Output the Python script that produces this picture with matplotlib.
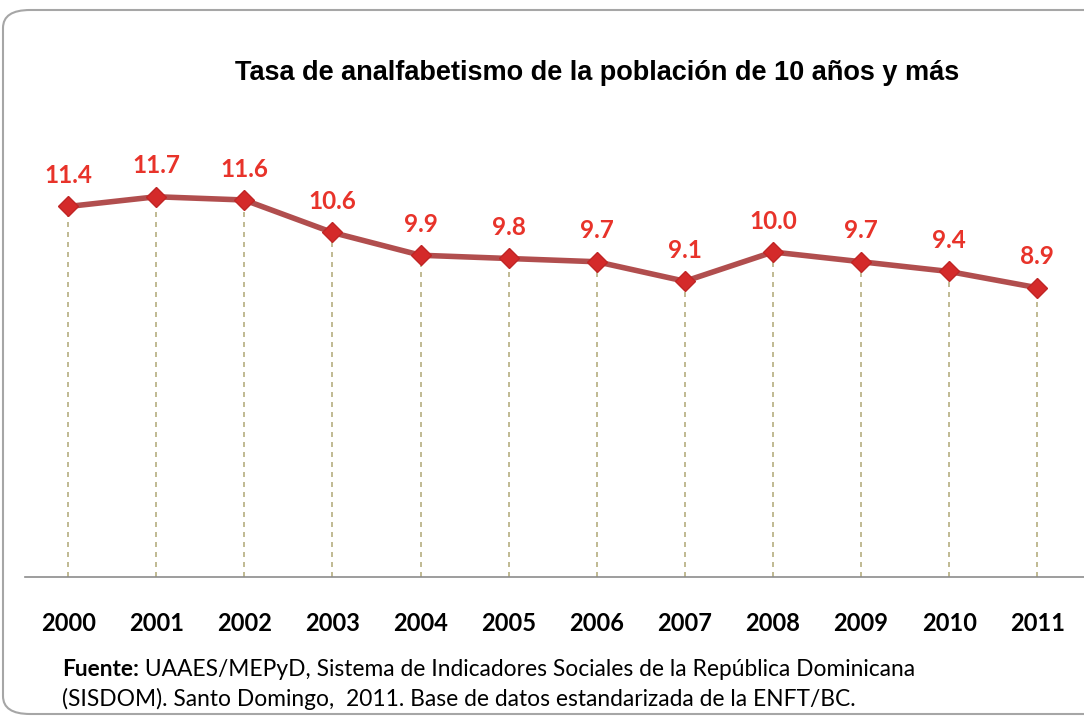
import matplotlib.pyplot as plt
from matplotlib.patches import FancyBboxPatch

# datos
anios = ['2000', '2001', '2002', '2003', '2004', '2005', '2006', '2007', '2008', '2009', '2010', '2011']
tasa = [11.4, 11.7, 11.6, 10.6, 9.9, 9.8, 9.7, 9.1, 10.0, 9.7, 9.4, 8.9]

W, H = 1084, 717
fig = plt.figure(figsize=(W / 100, H / 100), dpi=100)

# marco redondeado
marco = FancyBboxPatch((3 / W, 3 / H), 1.2, (H - 13) / H,
                       boxstyle='round,pad=0,rounding_size=0.025',
                       transform=fig.transFigure, facecolor='white',
                       edgecolor='#A6A6A6', linewidth=1.5, clip_on=False, zorder=-5)
fig.patches.append(marco)

ax = fig.add_axes([25 / W, (H - 577) / H, (W - 25) / W, (577 - 122) / H])
ax.set_facecolor('none')
x = list(range(len(anios)))

ax.plot(x, tasa, color='#A93B3B', linewidth=4, alpha=0.9, zorder=3)
ax.plot(x, tasa, linestyle='none', marker='D', markersize=10,
        markerfacecolor='#D42A2A', markeredgecolor='#C02525', zorder=4)

for xi, v in zip(x, tasa):
    ax.vlines(xi, 0, v, colors='#B5AE80', linestyles=(0, (3, 3)), linewidth=1.2, zorder=1)
    ax.annotate(f'{v:.1f}', (xi, v), xytext=(0, 14), textcoords='offset points',
                ha='center', va='bottom', color='#E8332A', fontsize=17.5,
                fontweight='bold', family='Lato')

ax.set_xlim(-0.49, 11.53)
ax.set_ylim(0, 14)
ax.set_yticks([])
ax.set_xticks(x)
ax.set_xticklabels(anios, fontsize=17, fontweight='bold', family='Lato')
ax.tick_params(axis='x', length=0, pad=25)
for s in ['top', 'right', 'left']:
    ax.spines[s].set_visible(False)
ax.spines['bottom'].set_color('#8C8C8C')
ax.spines['bottom'].set_linewidth(1.2)

fig.text(597 / W, 1 - 73 / H, 'Tasa de analfabetismo de la población de 10 años y más',
         ha='center', va='center', fontsize=19.5, fontweight='bold', family='Liberation Sans')

t1 = fig.text(62 / W, 1 - 669 / H, 'Fuente:', fontsize=16.4, fontweight='bold',
              family='Lato', va='center')
ax.annotate(' UAAES/MEPyD, Sistema de Indicadores Sociales de la República Dominicana',
            xy=(1, 0), xycoords=t1, va='bottom', fontsize=16.4, family='Lato',
            annotation_clip=False)
fig.text(62 / W, 1 - 699 / H,
         '(SISDOM). Santo Domingo,  2011. Base de datos estandarizada de la ENFT/BC.',
         fontsize=16.4, family='Lato', va='center')

fig.savefig('out.png', dpi=100)
